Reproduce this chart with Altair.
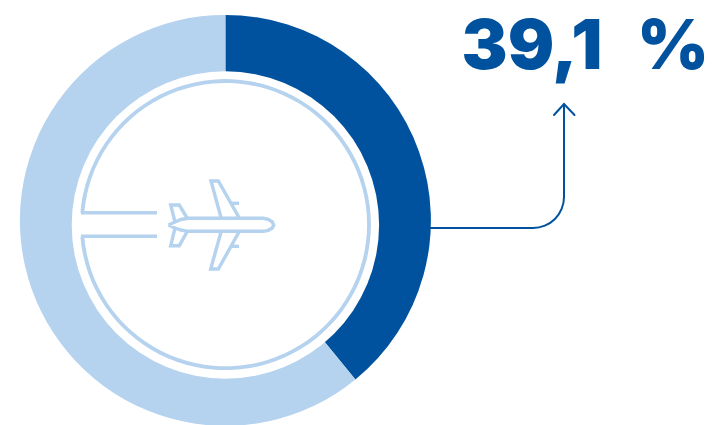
import math
import altair as alt
import pandas as pd

W, H = 713, 425
DARK = "#00529F"
LIGHT = "#B5D2EE"

# Donut share
segments = ["Luftfracht", "Rest"]
shares = [39.1, 60.9]
seg_order = [0, 1]
seg_colors = [DARK, LIGHT]
label_text = "39,1\u2002%"

# Plane drawing, one list of vertices per stroke
plane_parts = {
    "fuselage": [(168.5, 225), (175, 222), (181, 219.5), (188, 218.3), (263.3, 218.3),
                 (268.3, 219.3), (272.3, 222), (273.7, 225), (272.3, 228), (268.3, 230.3),
                 (263.3, 231.3), (188, 231.3), (181, 230), (175, 228), (168.5, 225)],
    "tail_up": [(175, 222), (170.7, 205), (179.3, 205), (187.3, 218.3)],
    "tail_down": [(175, 228), (170.7, 245.7), (179.3, 245.7), (187.3, 231.3)],
    "wing_up": [(221, 217.5), (211, 181), (218.3, 181), (239, 217.5)],
    "engine_up": [(230.7, 203.3), (239, 203.3)],
    "wing_down": [(221, 232), (210.7, 269), (218.3, 269), (239, 232)],
    "engine_down": [(230.7, 246.3), (239, 246.3)],
    "runway_up": [(81, 212.7), (157, 212.7)],
    "runway_down": [(81, 236.3), (157, 236.3)],
}

# Leader from the donut to the label, with the rounded corner drawn as its own arc
leader_parts = {
    "run": [(430, 228), (533, 228)],
    "rise": [(564, 197), (564, 104.5)],
    "head": [(554, 115), (564, 104), (574.5, 115)],
}


def strokes(parts):
    rows = []
    for name, pts in parts.items():
        for i, (px, py) in enumerate(pts):
            rows.append({"part": name, "i": i, "px": px, "py": py})
    return pd.DataFrame(rows)


x_pix = alt.X("px:Q", axis=None, scale=alt.Scale(domain=[0, W], range=[0, W]))
y_pix = alt.Y("py:Q", axis=None, scale=alt.Scale(domain=[H, 0]))

donut = (
    alt.Chart(pd.DataFrame({"segment": segments, "share": shares, "o": seg_order}))
    .mark_arc(outerRadius=205.5, innerRadius=0)
    .encode(
        theta=alt.Theta("share:Q", stack=True),
        order=alt.Order("o:Q"),
        color=alt.Color("segment:N", legend=None,
                        scale=alt.Scale(domain=segments, range=seg_colors)),
        x=alt.value(225.4),
        y=alt.value(220.4),
    )
)

# The hole sits a little below the centre of the outer circle
hole = alt.Chart(pd.DataFrame({"a": [0]})).mark_arc(outerRadius=153.7, innerRadius=0, color="white").encode(
    theta=alt.value(0), theta2=alt.value(2 * math.pi),
    x=alt.value(225.4), y=alt.value(225),
)

gap = math.radians(4.7)
ring = alt.Chart(pd.DataFrame({"a": [0]})).mark_arc(outerRadius=145.5, innerRadius=141.7, color=LIGHT).encode(
    theta=alt.value(1.5 * math.pi + gap), theta2=alt.value(3.5 * math.pi - gap),
    x=alt.value(225.4), y=alt.value(224.6),
)

plane = alt.Chart(strokes(plane_parts)).mark_line(
    color=LIGHT, strokeWidth=3.4, strokeJoin="miter", strokeCap="butt"
).encode(x=x_pix, y=y_pix, detail="part:N", order="i:Q")

leader = alt.Chart(strokes(leader_parts)).mark_line(
    color=DARK, strokeWidth=2, strokeJoin="miter", strokeCap="round"
).encode(x=x_pix, y=y_pix, detail="part:N", order="i:Q")

corner = alt.Chart(pd.DataFrame({"a": [0]})).mark_arc(outerRadius=32, innerRadius=30, color=DARK).encode(
    theta=alt.value(math.pi / 2), theta2=alt.value(math.pi),
    x=alt.value(533), y=alt.value(197),
)

label = alt.Chart(pd.DataFrame({"t": [label_text]})).mark_text(
    font="Inter", fontWeight=900, fontSize=69, color=DARK, align="right", baseline="alphabetic"
).encode(text="t:N", x=alt.value(709), y=alt.value(69))

chart = (
    alt.layer(donut, hole, ring, plane, leader, corner, label)
    .resolve_scale(color="independent")
    .properties(width=W, height=H, padding=0, background="white",
                autosize=alt.AutoSizeParams(type="none"))
    .configure_view(stroke=None)
)

chart.save("out.html", embed_options={"renderer": "svg", "actions": False})
